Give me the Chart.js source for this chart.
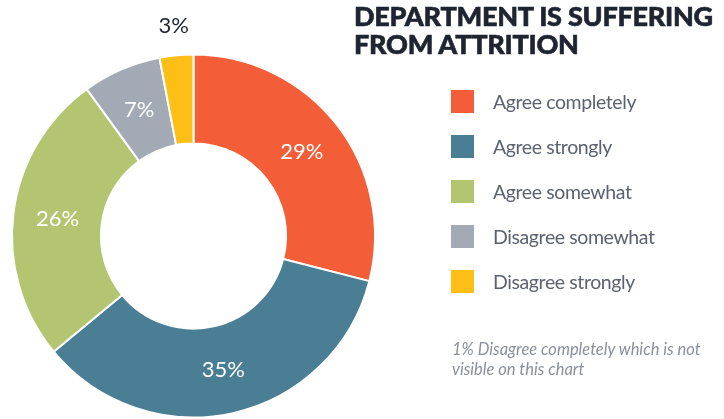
<!DOCTYPE html>
<html>
<head>
<meta charset="utf-8">
<script src="https://cdn.jsdelivr.net/npm/chart.js@4.4.0/dist/chart.umd.min.js"></script>
<style>
  html, body { margin: 0; padding: 0; background: #fff; }
  #wrap { position: relative; width: 724px; height: 419px; overflow: hidden; }
  #c { position: absolute; left: 0; top: 0; }
  #title { position: absolute; left: 354px; top: 2px; font-family: Lato, sans-serif; font-weight: 900;
    font-size: 27px; line-height: 28px; color: #1e2430; white-space: nowrap; letter-spacing: -0.25px;
    -webkit-text-stroke: 0.6px #1e2430; }
  #legend { position: absolute; left: 451px; top: 90px; font-family: Lato, sans-serif; }
  .row { position: absolute; left: 0; height: 23px; white-space: nowrap; }
  .sw { position: absolute; left: 0; top: 0; width: 23px; height: 23px; }
  .lt { position: absolute; left: 42px; top: 0px; font-size: 19.5px; letter-spacing: -0.4px; line-height: 23px; color: #5b6270; }
  #note { position: absolute; left: 452px; top: 339px; font-family: Lato, sans-serif; font-style: italic;
    font-size: 16.5px; line-height: 20px; color: #8a909a; width: 272px; white-space: nowrap; }
</style>
</head>
<body>
<div id="wrap">
  <canvas id="c" width="724" height="419"></canvas>
  <div id="title">DEPARTMENT IS SUFFERING<br>FROM ATTRITION</div>
  <div id="legend"></div>
  <div id="note">1% Disagree completely which is not<br>visible on this chart</div>
</div>
<script>
const categories = ["Agree completely", "Agree strongly", "Agree somewhat", "Disagree somewhat", "Disagree strongly"];
const values = [29, 35, 26, 7, 3];
const colors = ["#f35d37", "#497e95", "#b3c571", "#a3aab6", "#fdbe16"];
const labelColors = ["#ffffff", "#ffffff", "#ffffff", "#ffffff", "#1e2430"];

// legend
const legend = document.getElementById('legend');
categories.forEach((name, i) => {
  const r = document.createElement('div');
  r.className = 'row';
  r.style.top = (i * 45) + 'px';
  r.innerHTML = '<div class="sw" style="background:' + colors[i] + '"></div><div class="lt">' + name + '</div>';
  legend.appendChild(r);
});

const pctLabels = {
  id: 'pctLabels',
  afterDatasetsDraw(chart) {
    const ctx = chart.ctx;
    const meta = chart.getDatasetMeta(0);
    ctx.save();
    ctx.font = '400 22px Lato, sans-serif';
    ctx.textAlign = 'center';
    ctx.textBaseline = 'middle';
    meta.data.forEach((arc, i) => {
      const p = arc.getProps(['x', 'y', 'startAngle', 'endAngle', 'innerRadius', 'outerRadius'], true);
      const mid = (p.startAngle + p.endAngle) / 2;
      const small = values[i] < 5;
      const r = small ? p.outerRadius + 30 : (p.innerRadius + p.outerRadius) / 2;
      ctx.fillStyle = labelColors[i];
      ctx.fillText(values[i] + '%', p.x + Math.cos(mid) * r, p.y + Math.sin(mid) * r);
    });
    ctx.restore();
  }
};

new Chart(document.getElementById('c'), {
  type: 'doughnut',
  data: {
    labels: categories,
    datasets: [{
      data: values,
      backgroundColor: colors,
      borderColor: '#ffffff',
      borderWidth: 2
    }]
  },
  options: {
    responsive: false,
    animation: false,
    events: [],
    cutout: '51%',
    layout: { padding: { left: 11, right: 348, top: 53.5, bottom: 0.5 } },
    plugins: { legend: { display: false }, tooltip: { enabled: false } }
  },
  plugins: [pctLabels]
});
</script>
</body>
</html>
